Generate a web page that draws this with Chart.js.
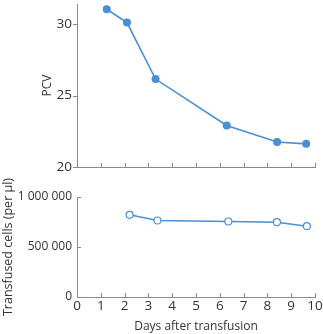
<!DOCTYPE html>
<html>
<head>
<meta charset="utf-8">
<script src="https://cdn.jsdelivr.net/npm/chart.js@4/dist/chart.umd.min.js"></script>
<style>
  body { margin: 0; background: #fff; }
  #wrap { position: relative; width: 323px; height: 334px; }
  #wrap div { position: absolute; left: 0; width: 323px; }
</style>
</head>
<body>
<div id="wrap">
  <div style="top:0;height:175px"><canvas id="pcvChart"></canvas></div>
  <div style="top:175px;height:159px"><canvas id="cellChart"></canvas></div>
</div>
<script>
const pcvDays = [1.25, 2.1, 3.3, 6.29, 8.41, 9.63];
const pcvValues = [31.03, 30.1, 26.15, 22.9, 21.75, 21.62];
const cellDays = [2.21, 3.38, 6.36, 8.4, 9.66];
const cellValues = [822000, 765000, 755000, 748000, 708000];
const dayTicks = [0, 1, 2, 3, 4, 5, 6, 7, 8, 9, 10];
const pcvTicks = [20, 25, 30];
const cellTicks = [0, 500000, 1000000];

const blue = '#4a8ed6';
const axisColor = '#8a8a8a';
const textColor = '#333';
const font = { family: 'Open Sans', size: 12 };
const bigFont = { family: 'Open Sans', size: 13.5 };

Chart.defaults.font = font;
Chart.defaults.color = textColor;

// short tick marks: x ticks point up into the plot, y ticks set per chart
const innerTicks = {
    id: 'innerTicks',
    afterDraw(chart, args, opts) {
        const { ctx, scales: { x, y } } = chart;
        ctx.save();
        ctx.strokeStyle = axisColor;
        ctx.lineWidth = 1;
        ctx.beginPath();
        dayTicks.slice(1).forEach(v => {
            const px = Math.round(x.getPixelForValue(v)) + 0.5;
            ctx.moveTo(px, y.bottom);
            ctx.lineTo(px, y.bottom - 4);
        });
        opts.yTicks.forEach(v => {
            const py = Math.round(y.getPixelForValue(v)) + 0.5;
            ctx.moveTo(x.left, py);
            ctx.lineTo(x.left + opts.yDir * 4, py);
        });
        ctx.stroke();
        ctx.restore();
    }
};

function fitY(s) {
    s.width = 77;
    s.paddingTop = 0;
    s.paddingBottom = 0;
}

function xAxis(showLabels, height) {
    return {
        type: 'linear',
        min: 0,
        max: 10,
        afterFit: s => { s.height = height; s.paddingLeft = 0; s.paddingRight = 0; },
        afterBuildTicks: s => { s.ticks = dayTicks.map(v => ({ value: v })); },
        grid: { drawOnChartArea: false, drawTicks: false },
        border: { color: axisColor },
        ticks: { display: showLabels, padding: 1, font: bigFont, color: textColor },
        title: {
            display: showLabels,
            text: 'Days after transfusion',
            font: font,
            color: textColor,
            padding: { top: 0, bottom: 0 }
        }
    };
}

new Chart(document.getElementById('pcvChart'), {
    type: 'line',
    data: {
        datasets: [{
            data: pcvDays.map((d, i) => ({ x: d, y: pcvValues[i] })),
            borderColor: blue,
            backgroundColor: blue,
            borderWidth: 1.6,
            pointRadius: 4,
            pointBorderWidth: 0
        }]
    },
    options: {
        responsive: true,
        maintainAspectRatio: false,
        animation: false,
        layout: { padding: { left: 0, right: 8, top: 0, bottom: 0 } },
        plugins: { legend: { display: false }, tooltip: { enabled: false }, innerTicks: { yTicks: pcvTicks, yDir: -1 } },
        scales: {
            x: xAxis(false, 8),
            y: {
                min: 20,
                max: 31.4,
                afterFit: fitY,
                afterBuildTicks: s => { s.ticks = pcvTicks.map(v => ({ value: v })); },
                grid: { drawOnChartArea: false, drawTicks: false },
                border: { color: axisColor },
                ticks: { padding: 5, font: bigFont, color: textColor },
                title: { display: true, text: 'PCV', font: font, color: textColor, padding: { top: 40, bottom: 0 } }
            }
        }
    },
    plugins: [innerTicks]
});

new Chart(document.getElementById('cellChart'), {
    type: 'line',
    data: {
        datasets: [{
            data: cellDays.map((d, i) => ({ x: d, y: cellValues[i] })),
            borderColor: blue,
            backgroundColor: '#fff',
            borderWidth: 1.6,
            pointRadius: 3.5,
            pointBorderWidth: 1.2,
            pointBorderColor: blue
        }]
    },
    options: {
        responsive: true,
        maintainAspectRatio: false,
        animation: false,
        layout: { padding: { left: 0, right: 8, top: 22, bottom: 0 } },
        plugins: { legend: { display: false }, tooltip: { enabled: false }, innerTicks: { yTicks: cellTicks.slice(1), yDir: 1 } },
        scales: {
            x: xAxis(true, 37),
            y: {
                min: 0,
                max: 1000000,
                afterFit: fitY,
                afterBuildTicks: s => { s.ticks = cellTicks.map(v => ({ value: v })); },
                grid: { drawOnChartArea: false, drawTicks: false },
                border: { color: axisColor },
                ticks: {
                    padding: 5,
                    font: font,
                    color: textColor,
                    callback: v => v.toLocaleString('en-US').replace(/,/g, ' ')
                },
                title: {
                    display: true,
                    text: 'Transfused cells (per µl)',
                    font: { family: 'Open Sans', size: 12.5 },
                    color: textColor,
                    padding: { top: 1, bottom: 0 }
                }
            }
        }
    },
    plugins: [innerTicks]
});
</script>
</body>
</html>
